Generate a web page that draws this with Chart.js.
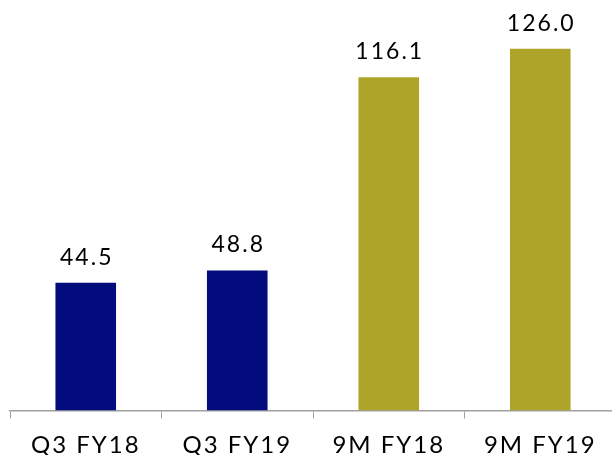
<!DOCTYPE html>
<html>
<head>
<meta charset="utf-8">
<script src="https://cdn.jsdelivr.net/npm/chart.js@4"></script>
<style>
  html, body { margin: 0; padding: 0; background: #fff; overflow: hidden; }
  #wrap { width: 616px; height: 455px; }
</style>
</head>
<body>
<div id="wrap"><canvas id="chart"></canvas></div>
<script>
const categories = ['Q3 FY18', 'Q3 FY19', '9M FY18', '9M FY19'];
const values = [44.5, 48.8, 116.1, 126.0];
const barColors = ['#020c7c', '#020c7c', '#afa42a', '#afa42a'];

// wider letter spacing, closer to the original geometric font
const spacing = {
  id: 'spacing',
  beforeDraw(chart) {
    chart.ctx.letterSpacing = '2px';
  }
};

// draws the value above each bar
const valueLabels = {
  id: 'valueLabels',
  afterDatasetsDraw(chart) {
    const ctx = chart.ctx;
    const meta = chart.getDatasetMeta(0);
    ctx.save();
    ctx.letterSpacing = '2px';
    ctx.font = '23px Lato, sans-serif';
    ctx.fillStyle = '#000';
    ctx.textAlign = 'center';
    ctx.textBaseline = 'alphabetic';
    meta.data.forEach((bar, i) => {
      ctx.fillText(values[i].toFixed(1), bar.x + 1, bar.y - 18);
    });
    ctx.restore();
  }
};

new Chart(document.getElementById('chart').getContext('2d'), {
  type: 'bar',
  data: {
    labels: categories,
    datasets: [{
      data: values,
      backgroundColor: barColors,
      barPercentage: 0.4,
      categoryPercentage: 1
    }]
  },
  options: {
    responsive: true,
    maintainAspectRatio: false,
    animation: false,
    layout: { padding: { left: 10, right: 0, top: 0, bottom: -16.3 } },
    plugins: { legend: { display: false }, tooltip: { enabled: false } },
    scales: {
      x: {
        grid: { display: true, drawOnChartArea: false, offset: true, tickLength: 8, color: '#a0a0a0' },
        border: { display: true, color: '#a0a0a0', width: 1.5 },
        ticks: { color: '#000', padding: 12, font: { family: 'Lato, sans-serif', size: 24 } }
      },
      y: {
        display: false,
        min: 0,
        max: 143
      }
    }
  },
  plugins: [spacing, valueLabels]
});
</script>
</body>
</html>
